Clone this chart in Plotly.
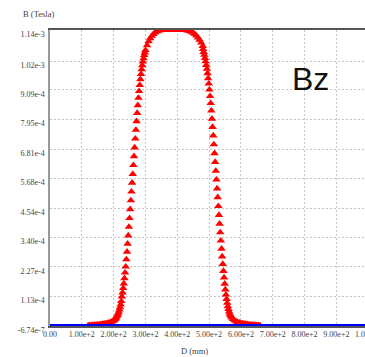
import plotly.graph_objects as go

# Axial field profile Bz along D (mm); field values stored in mT
D_mm = [
    120, 125, 130, 135, 140, 145, 150, 155, 160, 165, 170, 175, 180, 185, 190, 194, 198,
    200, 202, 204, 206, 208, 210, 212, 214, 216, 218, 220, 222, 224, 226, 228, 230,
    232, 234, 236, 238, 240, 242, 244, 246, 248, 250, 252, 254, 256, 258, 260, 262,
    264, 266, 268, 270, 272, 274, 276, 278, 280, 282, 284, 286, 288, 290, 292, 294,
    296, 298, 300,
    305, 310, 315, 320, 325, 330, 335, 340, 345, 350, 355, 360, 365, 370, 375, 380,
    385, 390, 395, 400, 405, 410, 415, 420, 425, 430, 435, 440, 445, 450, 455, 460,
    465, 470, 475, 480,
    481, 483, 485, 487, 489, 491, 493, 495, 497, 499, 501, 503, 505, 507, 509, 511,
    513, 515, 517, 519, 521, 523, 525, 527, 529, 531, 533, 535, 537, 539, 541, 543,
    545, 547, 549, 551, 553, 555, 557, 559, 561, 563, 565, 567, 569, 571,
    575, 580, 585, 590, 595, 600, 605, 610, 615, 620, 625, 630, 635, 640, 645, 650,
    655, 660,
]
Bz_mT = [
    0.001, 0.002, 0.002, 0.003, 0.003, 0.004, 0.004, 0.005, 0.006, 0.007, 0.008, 0.009,
    0.010, 0.012, 0.014, 0.016, 0.019,
    0.021, 0.023, 0.026, 0.029, 0.032, 0.036, 0.041, 0.047, 0.054, 0.062, 0.071, 0.082,
    0.095, 0.113, 0.128, 0.145, 0.163, 0.183, 0.205, 0.228, 0.256, 0.285, 0.316, 0.348,
    0.381, 0.415, 0.449, 0.483, 0.517, 0.551, 0.585, 0.619, 0.653, 0.687, 0.721, 0.755,
    0.788, 0.820, 0.850, 0.878, 0.904, 0.928, 0.950, 0.970, 0.988, 1.004, 1.018, 1.031,
    1.043, 1.053, 1.062,
    1.081, 1.096, 1.108, 1.117, 1.124, 1.130, 1.134, 1.137, 1.139, 1.140, 1.140, 1.140,
    1.140, 1.140, 1.140, 1.140, 1.140, 1.140, 1.140, 1.140, 1.140, 1.140, 1.140, 1.140,
    1.140, 1.139, 1.138, 1.136, 1.133, 1.129, 1.124, 1.118, 1.111, 1.102, 1.091, 1.078,
    1.066, 1.055, 1.044, 1.032, 1.019, 1.005, 0.990, 0.973, 0.954, 0.933, 0.910, 0.885,
    0.858, 0.829, 0.798, 0.766, 0.733, 0.699, 0.665, 0.631, 0.597, 0.563, 0.529, 0.495,
    0.461, 0.427, 0.393, 0.360, 0.328, 0.297, 0.267, 0.238, 0.211, 0.186, 0.162, 0.140,
    0.120, 0.103, 0.088, 0.075, 0.064, 0.055, 0.047, 0.041, 0.036, 0.032,
    0.026, 0.021, 0.017, 0.014, 0.012, 0.010, 0.009, 0.008, 0.007, 0.006, 0.005, 0.004,
    0.004, 0.003, 0.003, 0.002, 0.002, 0.001,
]
Bz_T = [v * 1e-3 for v in Bz_mT]

# Transverse component, essentially zero across the whole span
D_base = [0, 1000]
Bt_T = [0.0, 0.0]

x_ticks = [0, 100, 200, 300, 400, 500, 600, 700, 800, 900]
x_tick_text = ["0.00", "1.00e+2", "2.00e+2", "3.00e+2", "4.00e+2", "5.00e+2",
               "6.00e+2", "7.00e+2", "8.00e+2", "9.00e+2"]
y_tick_text = ["-6.74e-7", "1.13e-4", "2.27e-4", "3.40e-4", "4.54e-4", "5.68e-4",
               "6.81e-4", "7.95e-4", "9.09e-4", "1.02e-3", "1.14e-3"]
y_ticks = [float(s) for s in y_tick_text]

tick_font = dict(family="Liberation Serif", size=8, color="#444")
label_font = dict(family="Liberation Serif", size=8.5, color="#444")
grid = dict(showgrid=True, gridcolor="#c4c4c4", gridwidth=1, griddash="2px,2px",
            zeroline=False, ticks="")

fig = go.Figure()
fig.add_trace(go.Scatter(
    x=D_mm, y=Bz_T, mode="markers",
    marker=dict(symbol="triangle-up", size=7.5, color="#ff0000", line=dict(width=0)),
    showlegend=False,
))
fig.add_trace(go.Scatter(
    x=D_base, y=Bt_T, mode="lines",
    line=dict(color="#0000ff", width=3.5),
    cliponaxis=False, showlegend=False,
))

fig.update_layout(
    width=365, height=357,
    margin=dict(l=50, r=0, t=30, b=31),
    paper_bgcolor="white", plot_bgcolor="white",
    showlegend=False,
    xaxis=dict(range=[0, 990], tickmode="array", tickvals=x_ticks, ticktext=x_tick_text,
               tickfont=tick_font, showline=True, linecolor="#555", linewidth=1.5,
               mirror=True, tickangle=0, **grid),
    yaxis=dict(range=[-6.74e-7, 1.14e-3], tickmode="array", tickvals=y_ticks,
               ticktext=y_tick_text, tickfont=tick_font, showline=True,
               linecolor="#999", linewidth=1.5, ticklabelstandoff=2,
               ticklabelshift=4, **grid),
    annotations=[
        dict(text="B (Tesla)", xref="paper", yref="paper", x=-0.092, y=1.0,
             yshift=16, xanchor="left", yanchor="middle", showarrow=False,
             font=label_font),
        dict(text="D (mm)", xref="paper", yref="paper", x=0.46, y=0, yshift=-25,
             xanchor="center", yanchor="middle", showarrow=False, font=label_font),
        dict(text="1.00e+3", xref="paper", yref="paper", x=1000 / 990, y=0,
             xanchor="center", yanchor="top", yshift=-2, showarrow=False,
             font=tick_font),
        dict(text="Bz", xref="paper", yref="paper", x=0.762, y=0.835,
             xanchor="left", yanchor="middle", showarrow=False,
             font=dict(family="Liberation Sans", size=32, color="#111")),
    ],
)

fig.write_html("out.html")
